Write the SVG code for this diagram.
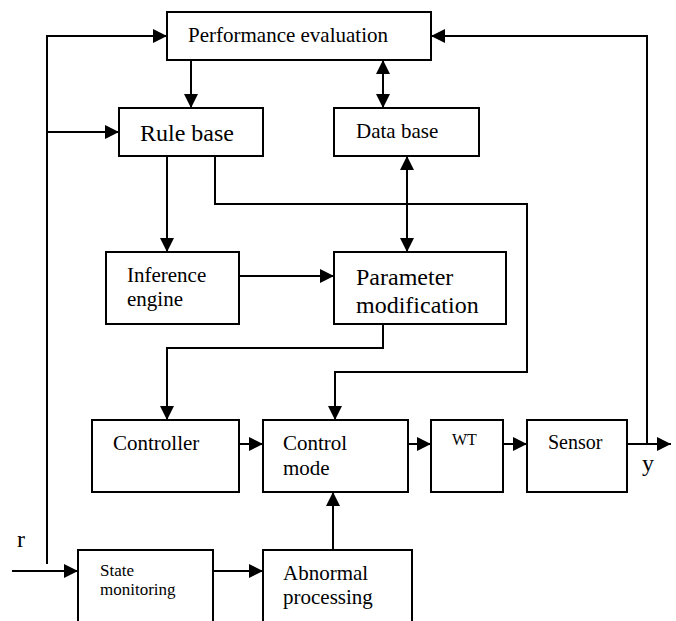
<svg xmlns="http://www.w3.org/2000/svg" width="676" height="621" viewBox="0 0 676 621">
<style>
.box{fill:#fff;stroke:#000;stroke-width:2}
.ln{fill:none;stroke:#000;stroke-width:2}
.arr{marker-end:url(#ah)}
.dbl{marker-start:url(#ah);marker-end:url(#ah)}
</style>
<defs>
<marker id="ah" markerUnits="userSpaceOnUse" markerWidth="14" markerHeight="14" refX="14" refY="7" orient="auto-start-reverse">
<path d="M0,0 L14,7 L0,14 z" fill="#000"/>
</marker>
</defs>
<rect width="676" height="621" fill="#fff"/>
<g id="connectors">
<path class="ln arr" d="M47,564 L47,36 L167,36"/>
<path class="ln arr" d="M47,132 L119,132"/>
<path class="ln arr" d="M12,571 L78,571"/>
<path class="ln arr" d="M191,60 L191,108"/>
<path class="ln dbl" d="M383,60 L383,108"/>
<path class="ln arr" d="M167,156 L167,252"/>
<path class="ln arr" d="M215,156 L215,204 L527,204 L527,372 L335,372 L335,420"/>
<path class="ln dbl" d="M407,156 L407,252"/>
<path class="ln arr" d="M239,276 L334,276"/>
<path class="ln arr" d="M383,324 L383,348 L167,348 L167,420"/>
<path class="ln arr" d="M239,444 L263,444"/>
<path class="ln arr" d="M408,444 L431,444"/>
<path class="ln arr" d="M503,444 L527,444"/>
<path class="ln arr" d="M627,444 L671,444"/>
<path class="ln arr" d="M647,444 L647,36 L431,36"/>
<path class="ln arr" d="M213,571 L263,571"/>
<path class="ln arr" d="M333,550 L333,492"/>
</g>
<g font-family="Liberation Serif, Times New Roman, serif" fill="#000">
<g id="perf"><rect class="box" x="167" y="12" width="264" height="48"/><text x="188" y="42" font-size="21">Performance evaluation</text></g>
<g id="rule"><rect class="box" x="119" y="108" width="144" height="48"/><text x="140" y="141" font-size="24">Rule base</text></g>
<g id="data"><rect class="box" x="334" y="108" width="145" height="48"/><text x="356" y="138" font-size="21">Data base</text></g>
<g id="inference"><rect class="box" x="106" y="252" width="133" height="72"/><text x="127" y="282" font-size="21">Inference</text><text x="127" y="306" font-size="21">engine</text></g>
<g id="param"><rect class="box" x="334" y="252" width="172" height="72"/><text x="356" y="285" font-size="24">Parameter</text><text x="356" y="313" font-size="24">modification</text></g>
<g id="controller"><rect class="box" x="92" y="420" width="147" height="72"/><text x="113" y="450" font-size="21">Controller</text></g>
<g id="controlmode"><rect class="box" x="263" y="420" width="145" height="72"/><text x="283" y="450" font-size="21">Control</text><text x="283" y="475" font-size="21">mode</text></g>
<g id="wt"><rect class="box" x="431" y="420" width="72" height="72"/><text x="452" y="445" font-size="16">WT</text></g>
<g id="sensor"><rect class="box" x="527" y="420" width="100" height="72"/><text x="548" y="449" font-size="20">Sensor</text></g>
<g id="state"><rect class="box" x="78" y="550" width="135" height="90"/><text x="100" y="576" font-size="17">State</text><text x="100" y="595" font-size="17">monitoring</text></g>
<g id="abnormal"><rect class="box" x="263" y="550" width="149" height="90"/><text x="283" y="580" font-size="21">Abnormal</text><text x="283" y="604" font-size="21">processing</text></g>
<text x="17" y="547" font-size="24">r</text>
<text x="642" y="471" font-size="24">y</text>
</g>
</svg>
